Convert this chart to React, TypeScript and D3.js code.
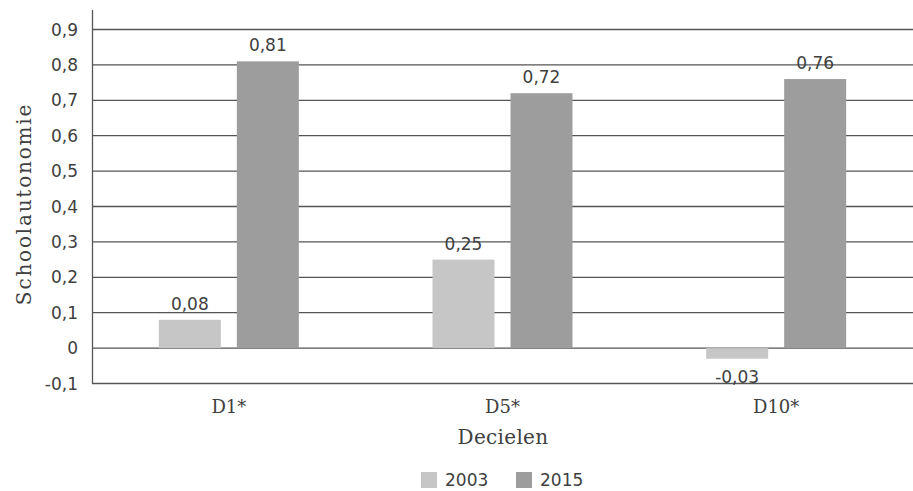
import React from "react";
import * as d3 from "d3";

const categories = ["D1*", "D5*", "D10*"];
const seriesNames = ["2003", "2015"];
const values2003 = [0.08, 0.25, -0.03];
const values2015 = [0.81, 0.72, 0.76];
const yTicks = [-0.1, 0, 0.1, 0.2, 0.3, 0.4, 0.5, 0.6, 0.7, 0.8, 0.9];
const colors = ["#c6c6c6", "#9d9d9d"];

const W = 913;
const H = 491;
const numFont = "'DejaVu Sans', 'Open Sans', sans-serif";
const serifFont = "'DejaVu Serif', 'Liberation Serif', serif";
const fmt = (v: number) => (Math.round(v * 100) / 100).toString().replace(".", ",");

export default function App() {
  const x = d3.scaleBand<string>().domain(categories).range([92, 913]);
  const y = d3.scaleLinear().domain([-0.1, 0.9]).range([383.5, 29.5]);
  const barW = 62;
  const gap = 16;
  const series = [values2003, values2015];

  return (
    <svg width={W} height={H} style={{ position: "absolute", left: 0, top: 0, background: "#fff" }}>
      {yTicks.map((t) => (
        <g key={t}>
          <line x1={92} x2={913} y1={y(t)} y2={y(t)} stroke="#555" strokeWidth={1.3} />
          <text x={78} y={y(t)} dy="0.36em" textAnchor="end" fontFamily={numFont} fontSize={17} fill="#404040">
            {fmt(t)}
          </text>
        </g>
      ))}
      <line x1={92.5} x2={92.5} y1={10} y2={384} stroke="#555" strokeWidth={1.3} />
      {categories.map((c, ci) => {
        const cx = (x(c) as number) + x.bandwidth() / 2;
        return (
          <g key={c}>
            {series.map((vals, si) => {
              const v = vals[ci];
              const bx = si === 0 ? cx - gap / 2 - barW : cx + gap / 2;
              const top = Math.min(y(v), y(0));
              const h = Math.abs(y(v) - y(0));
              return (
                <g key={si}>
                  <rect x={bx} y={top} width={barW} height={h} fill={colors[si]} />
                  <text
                    x={bx + barW / 2}
                    y={v >= 0 ? y(v) - 10 : y(v) + 24}
                    textAnchor="middle"
                    fontFamily={numFont}
                    fontSize={17}
                    fill="#404040"
                  >
                    {fmt(v)}
                  </text>
                </g>
              );
            })}
            <text x={cx} y={413} textAnchor="middle" fontFamily={serifFont} fontSize={18} fill="#404040">
              {c}
            </text>
          </g>
        );
      })}
      <text x={503} y={444} textAnchor="middle" fontFamily={serifFont} fontSize={20} letterSpacing={0.3} fill="#404040">
        Decielen
      </text>
      <text
        transform={`translate(31,204) rotate(-90)`}
        textAnchor="middle"
        fontFamily={serifFont}
        fontSize={20}
        letterSpacing={1.8}
        fill="#404040"
      >
        Schoolautonomie
      </text>
      {seriesNames.map((s, i) => (
        <g key={s} transform={`translate(${421 + i * 95},472)`}>
          <rect x={0} y={0} width={16} height={16} fill={colors[i]} />
          <text x={24} y={14} fontFamily={numFont} fontSize={17} fill="#404040">
            {s}
          </text>
        </g>
      ))}
    </svg>
  );
}
